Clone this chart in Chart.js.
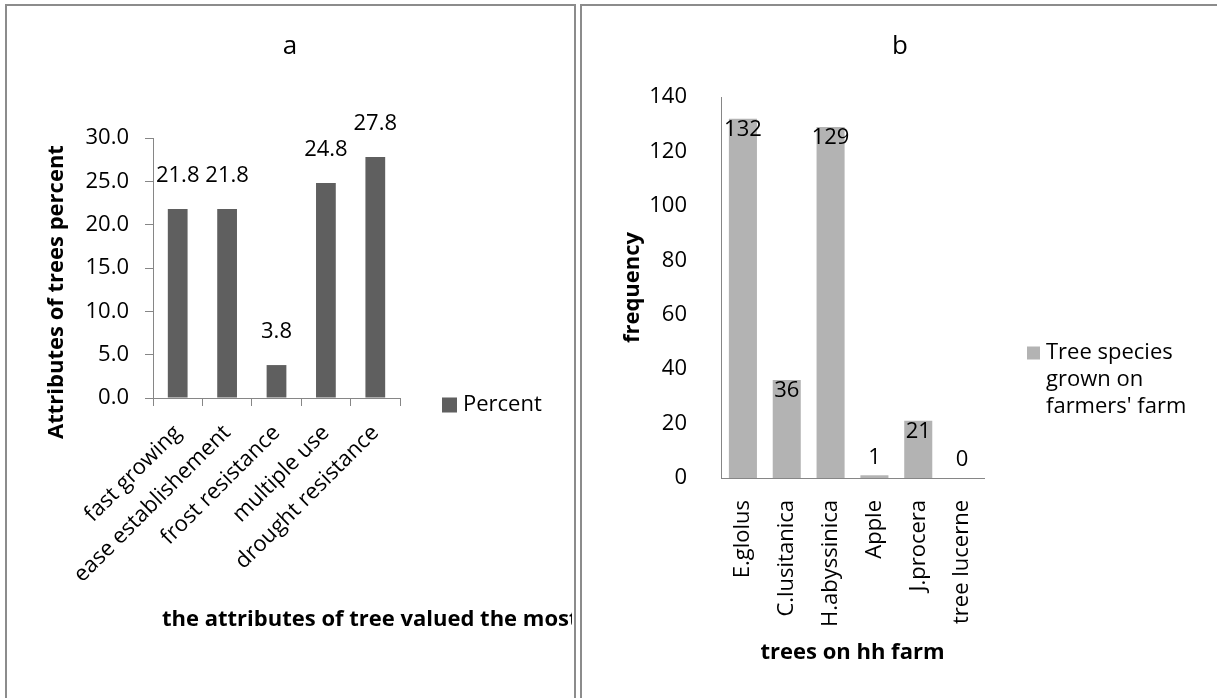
<!DOCTYPE html>
<html>
<head>
<meta charset="utf-8">
<script src="https://cdn.jsdelivr.net/npm/chart.js@4.4.1/dist/chart.umd.min.js"></script>
<style>
  html, body { margin: 0; padding: 0; background: #fff; overflow: hidden; }
  body { width: 1217px; height: 698px; position: relative; }
  .cell { position: absolute; border: 2px solid #8c8c8c; border-bottom: none; box-sizing: border-box; }
  #cellA { left: 5px; top: 4px; width: 571px; height: 700px; }
  #cellB { left: 580px; top: 4px; width: 700px; height: 700px; border-right: none; }
  canvas { position: absolute; }
  #chartA { left: 8px; top: 7px; }
  #chartB { left: 583px; top: 7px; }
</style>
</head>
<body>
<div class="cell" id="cellA"></div>
<div class="cell" id="cellB"></div>
<canvas id="chartA" width="564" height="691"></canvas>
<canvas id="chartB" width="634" height="691"></canvas>
<script>
// panel a data
const attributes = ['fast growing', 'ease establishement', 'frost resistance', 'multiple use', 'drought resistance'];
const percent = [21.8, 21.8, 3.8, 24.8, 27.8];

// panel b data
const trees = ['E.glolus', 'C.lusitanica', 'H.abyssinica', 'Apple', 'J.procera', 'tree lucerne'];
const frequency = [132, 36, 129, 1, 21, 0];

const legendA = ['Percent'];
const legendB = ['Tree species', 'grown on', "farmers' farm"];

const FONT = "'Open Sans', sans-serif";
const axisGray = '#868686';

Chart.defaults.font.family = FONT;
Chart.defaults.font.size = 22;
Chart.defaults.color = '#000';

// value labels on top of the bars
function barLabels(decimals, place) {
  return {
    id: 'barLabels',
    afterDatasetsDraw(chart) {
      const ctx = chart.ctx;
      const meta = chart.getDatasetMeta(0);
      const values = chart.data.datasets[0].data;
      ctx.save();
      ctx.font = '22px ' + FONT;
      ctx.fillStyle = '#000';
      ctx.textAlign = 'center';
      ctx.textBaseline = 'middle';
      meta.data.forEach((bar, i) => {
        ctx.fillText(values[i].toFixed(decimals), bar.x, place(bar));
      });
      ctx.restore();
    }
  };
}

// excel style legend at the right of the plot
function sideLegend(dx, firstLine, box, lines) {
  return {
    id: 'sideLegend',
    afterDraw(chart) {
      const {ctx, chartArea} = chart;
      const ds = chart.data.datasets[0];
      const x = chartArea.right + dx;
      const y0 = firstLine(chartArea);
      ctx.save();
      ctx.fillStyle = ds.backgroundColor;
      ctx.fillRect(x, y0 - box / 2, box, box);
      ctx.fillStyle = '#000';
      ctx.font = '22px ' + FONT;
      ctx.textAlign = 'left';
      ctx.textBaseline = 'middle';
      lines.forEach((t, i) => ctx.fillText(t, x + box + 6, y0 + i * 27));
      ctx.restore();
    }
  };
}

// panel letter, centred on the whole cell (not on the padded layout box)
function panelTitle(text) {
  return {
    id: 'panelTitle',
    afterDraw(chart) {
      const ctx = chart.ctx;
      ctx.save();
      ctx.font = '26px ' + FONT;
      ctx.fillStyle = '#000';
      ctx.textAlign = 'center';
      ctx.textBaseline = 'middle';
      ctx.fillText(text, chart.width / 2, 40);
      ctx.restore();
    }
  };
}

// axis titles of panel a are wider than the plot, draw them by hand
const axisTitlesA = {
  id: 'axisTitlesA',
  afterDraw(chart) {
    const {ctx, chartArea} = chart;
    ctx.save();
    ctx.font = 'bold 22px ' + FONT;
    ctx.fillStyle = '#000';
    ctx.textBaseline = 'middle';
    ctx.textAlign = 'left';
    ctx.fillText('the attributes of tree valued the most', chartArea.left + 9, chartArea.bottom + 222);
    ctx.translate(49, (chartArea.top + chartArea.bottom) / 2 + 24);
    ctx.rotate(-Math.PI / 2);
    ctx.textAlign = 'center';
    ctx.fillText('Attributes of trees percent', 0, 0);
    ctx.restore();
  }
};

new Chart(document.getElementById('chartA'), {
  type: 'bar',
  data: {
    labels: attributes,
    datasets: [{
      label: 'Percent',
      data: percent,
      backgroundColor: '#5f5f5f',
      barPercentage: 0.4,
      categoryPercentage: 1
    }]
  },
  options: {
    responsive: false,
    animation: false,
    layout: { padding: { left: 0, top: 131, right: 172, bottom: 0 } },
    plugins: {
      legend: { display: false },
      tooltip: { enabled: false },
      title: { display: false }
    },
    scales: {
      x: {
        grid: { drawOnChartArea: false, drawTicks: true, tickLength: 8, color: axisGray, offset: true },
        border: { color: axisGray },
        ticks: { minRotation: 45, maxRotation: 45, padding: 14, autoSkip: false },
        afterFit(s) { s.height = 300; }
      },
      y: {
        min: 0,
        max: 30,
        grid: { drawOnChartArea: false, drawTicks: true, tickLength: 8, color: axisGray },
        border: { color: axisGray },
        ticks: { stepSize: 5, padding: 16, callback: v => v.toFixed(1) },
        afterFit(s) { s.width = 145; }
      }
    }
  },
  plugins: [
    barLabels(1, bar => bar.y - 33),
    sideLegend(42, a => a.bottom + 7, 15, legendA),
    axisTitlesA,
    panelTitle('a')
  ]
});

new Chart(document.getElementById('chartB'), {
  type: 'bar',
  data: {
    labels: trees,
    datasets: [{
      label: "Tree species grown on farmers' farm",
      data: frequency,
      backgroundColor: '#b3b3b3',
      barPercentage: 0.64,
      categoryPercentage: 1
    }]
  },
  options: {
    responsive: false,
    animation: false,
    layout: { padding: { left: 0, top: 90, right: 233, bottom: 0 } },
    plugins: {
      legend: { display: false },
      tooltip: { enabled: false },
      title: { display: false }
    },
    scales: {
      x: {
        grid: { display: false },
        border: { color: axisGray },
        ticks: { minRotation: 90, maxRotation: 90, padding: 14, autoSkip: false },
        title: {
          display: true,
          text: 'trees on hh farm',
          font: { size: 22, weight: 'bold' },
          padding: { top: 0, bottom: 32 }
        },
        afterFit(s) { s.height = 220; }
      },
      y: {
        min: 0,
        max: 140,
        grid: { display: false },
        border: { color: axisGray },
        ticks: { stepSize: 20, padding: 26 },
        title: {
          display: true,
          text: 'frequency',
          font: { size: 22, weight: 'bold' },
          padding: { top: 37, bottom: 0 }
        },
        afterFit(s) { s.width = 138; }
      }
    }
  },
  plugins: [
    barLabels(0, bar => (bar.base - bar.y > 30 ? bar.y + 11 : bar.y - 18)),
    sideLegend(43, a => a.bottom - 125, 13, legendB),
    panelTitle('b')
  ]
});
</script>
</body>
</html>
